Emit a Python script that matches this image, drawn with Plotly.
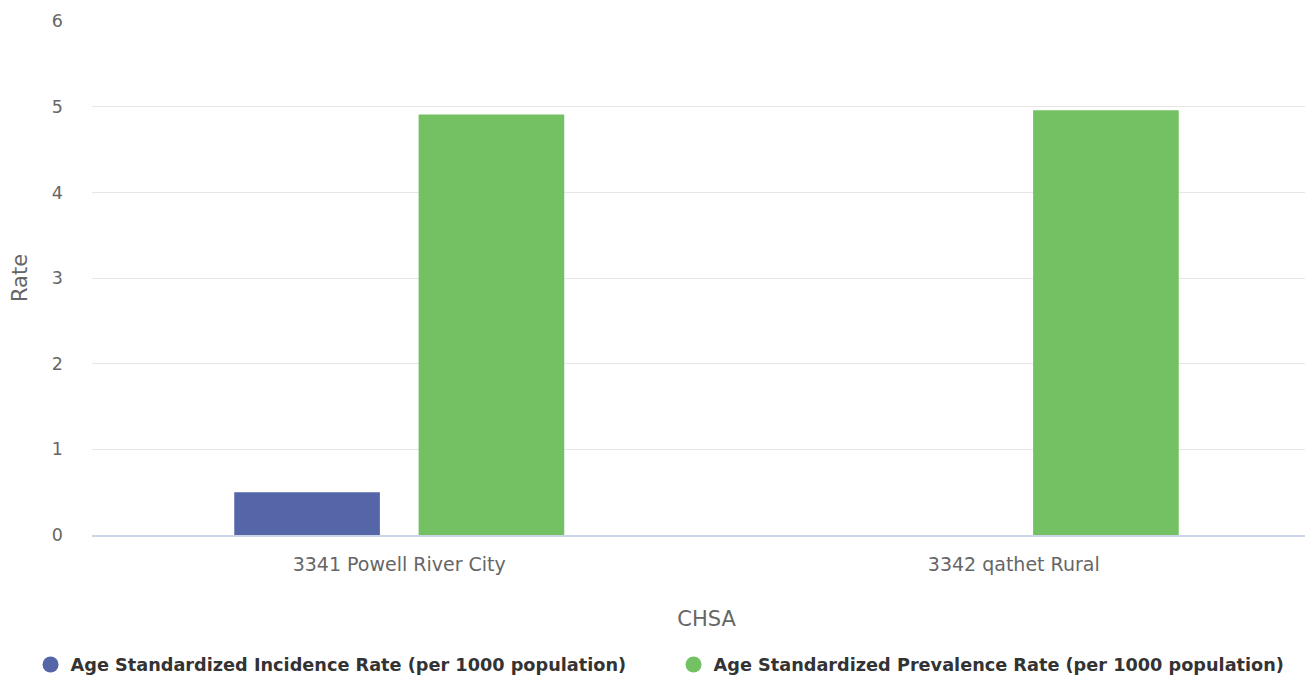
import plotly.graph_objects as go

categories = ["3341 Powell River City", "3342 qathet Rural"]
incidence = [0.50, None]
prevalence = [4.91, 4.96]
series_names = ["Age Standardized Incidence Rate (per 1000 population)",
                "Age Standardized Prevalence Rate (per 1000 population)"]
colors = ["#5465A8", "#73C163"]

FONT = "DejaVu Sans"

fig = go.Figure()
for name, vals, col in zip(series_names, [incidence, prevalence], colors):
    fig.add_trace(go.Bar(x=categories, y=vals, name=name, marker_color=col,
                         marker_line_width=0, showlegend=False))
# legend entries with circle symbols
for name, col in zip(series_names, colors):
    fig.add_trace(go.Scatter(x=[None], y=[None], mode="markers", name=name,
                             marker=dict(symbol="circle", size=17, color=col)))

# page body has an 8px default margin; compensate so the plot area matches
fig.update_layout(
    width=1313, height=679,
    margin=dict(l=84, r=0, t=13, b=152),
    paper_bgcolor="white", plot_bgcolor="white",
    barmode="group", bargap=0.40, bargroupgap=0.21,
    font=dict(family=FONT, color="#666666", size=17),
    legend=dict(orientation="h", x=-0.05, xanchor="left",
                y=-0.2529, yanchor="middle",
                font=dict(family=FONT, size=17.7, color="#333333", weight="bold"),
                itemsizing="trace", entrywidth=598, entrywidthmode="pixels"),
    showlegend=True,
)
fig.update_xaxes(showgrid=False, showline=True, linecolor="#ccd6eb", linewidth=1.5,
                 ticks="", ticklabelstandoff=11, tickfont=dict(size=19, color="#666666"),
                 title=dict(text="CHSA", font=dict(size=21, color="#666666"), standoff=38))
fig.update_yaxes(range=[0, 6.002], tickvals=[0, 1, 2, 3, 4, 5, 6], showgrid=True,
                 gridcolor="#e6e6e6", gridwidth=1.2,
                 zeroline=False, showline=False, ticks="", ticklabelstandoff=28,
                 tickfont=dict(size=17.5, color="#666666"),
                 title=dict(text="Rate", font=dict(size=21, color="#666666"), standoff=21))

fig.write_html("out.html")
